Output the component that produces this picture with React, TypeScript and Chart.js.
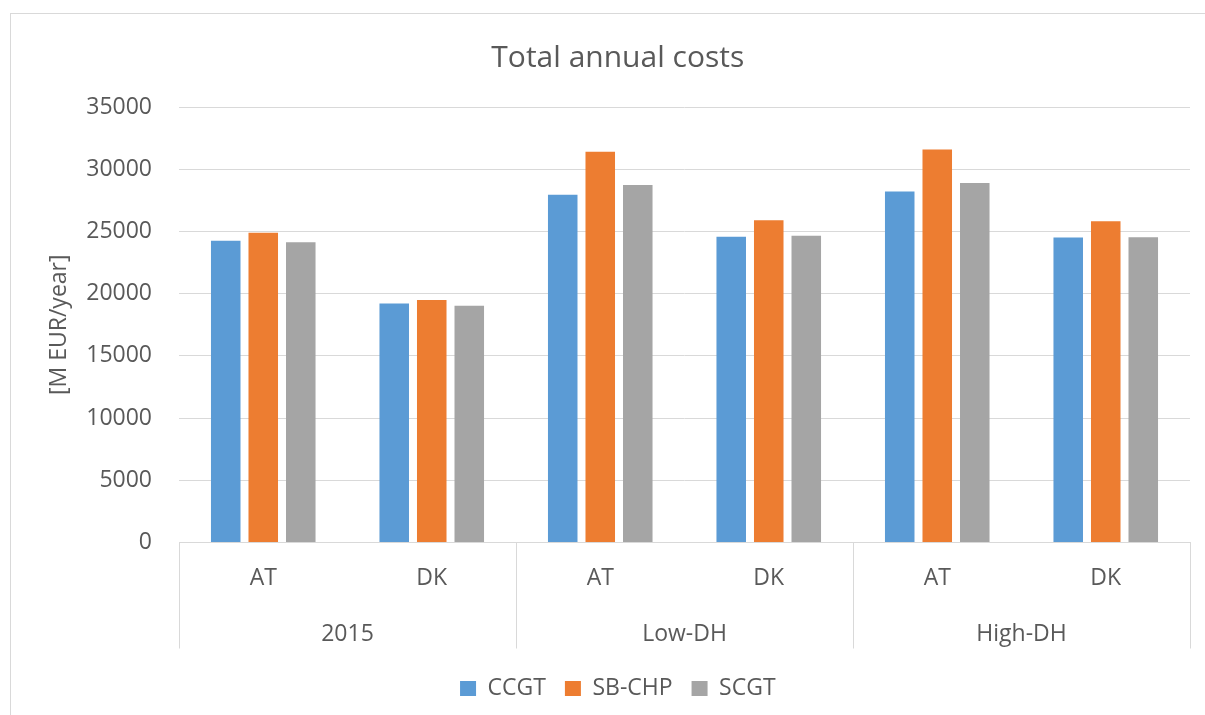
import React, { useEffect, useRef } from "react";
import { Chart, registerables } from "chart.js";

Chart.register(...registerables);

const categories = ["AT", "DK", "AT", "DK", "AT", "DK"];
const groups = ["2015", "Low-DH", "High-DH"];
const ccgtValues = [24250, 19200, 27950, 24570, 28200, 24520];
const sbchpValues = [24900, 19480, 31400, 25890, 31580, 25810];
const scgtValues = [24140, 19030, 28740, 24650, 28900, 24540];
const yMax = 35000;
const yStep = 5000;

const FONT = "'Open Sans', sans-serif";
const TEXT = "#595959";
const GRID = "#D9D9D9";

const groupAxisPlugin = {
  id: "groupAxis",
  afterDraw(chart: any) {
    const { ctx, chartArea, scales } = chart;
    const x = scales.x;
    const n = categories.length;
    const catW = (chartArea.right - chartArea.left) / n;
    const perGroup = n / groups.length;
    ctx.save();
    ctx.strokeStyle = GRID;
    ctx.lineWidth = 1;
    for (let g = 0; g <= groups.length; g++) {
      let px;
      if (g < groups.length) px = x.getPixelForValue(g * perGroup) - catW / 2;
      else px = x.getPixelForValue(n - 1) + catW / 2;
      px = Math.round(px) + 0.5;
      ctx.beginPath();
      ctx.moveTo(px, chartArea.bottom);
      ctx.lineTo(px, chartArea.bottom + 106);
      ctx.stroke();
    }
    ctx.fillStyle = TEXT;
    ctx.font = `23px ${FONT}`;
    ctx.textAlign = "center";
    ctx.textBaseline = "middle";
    groups.forEach((g, i) => {
      const a = x.getPixelForValue(i * perGroup);
      const b = x.getPixelForValue(i * perGroup + perGroup - 1);
      ctx.fillText(g, (a + b) / 2, chartArea.bottom + 92);
    });
    ctx.strokeStyle = GRID;
    ctx.strokeRect(10.5, 13.5, 1400, 1400);
    ctx.restore();
  },
};

export default function App() {
  const ref = useRef<HTMLCanvasElement>(null);
  useEffect(() => {
    if (!ref.current) return;
    const chart = new Chart(ref.current, {
      type: "bar",
      data: {
        labels: categories,
        datasets: [
          { label: "CCGT", data: ccgtValues, backgroundColor: "#5B9BD5" },
          { label: "SB-CHP", data: sbchpValues, backgroundColor: "#ED7D31" },
          { label: "SCGT", data: scgtValues, backgroundColor: "#A5A5A5" },
        ],
      },
      options: {
        responsive: false,
        animation: false,
        layout: { padding: { left: 45.6, right: 15, top: 0, bottom: 5 } },
        datasets: { bar: { categoryPercentage: 0.668, barPercentage: 0.787 } },
        plugins: {
          title: {
            display: true,
            text: "Total annual costs",
            color: TEXT,
            font: { family: FONT, size: 30, weight: "normal" },
            padding: { top: 40.5, bottom: 30.5 },
          },
          legend: {
            position: "bottom",
            labels: {
              boxWidth: 16,
              boxHeight: 15,
              padding: 19,
              color: TEXT,
              font: { family: FONT, size: 23 },
            },
          },
          tooltip: { enabled: false },
        },
        scales: {
          x: {
            grid: { display: false, drawTicks: false },
            border: { display: true, color: GRID, width: 1 },
            ticks: { color: TEXT, font: { family: FONT, size: 23 }, padding: 22, maxRotation: 0 },
            afterFit: (scale: any) => {
              scale.height = 115.5;
            },
          },
          y: {
            min: 0,
            max: yMax,
            ticks: {
              stepSize: yStep,
              color: TEXT,
              font: { family: FONT, size: 23 },
              padding: 27,
              callback: (v: any) => String(v),
            },
            grid: { color: GRID, drawTicks: false, lineWidth: 1 },
            border: { display: false },
            title: {
              display: true,
              text: "[M EUR/year]",
              color: TEXT,
              font: { family: FONT, size: 23 },
              padding: { top: 0, bottom: 0 },
            },
            afterFit: (scale: any) => {
              scale.width = 133.4;
            },
          },
        },
      },
      plugins: [groupAxisPlugin],
    });
    return () => chart.destroy();
  }, []);
  return (
    <div style={{ position: "absolute", left: 0, top: 0, width: 1205, height: 715, background: "#fff" }}>
      <canvas ref={ref} width={1205} height={715} style={{ display: "block" }} />
    </div>
  );
}
